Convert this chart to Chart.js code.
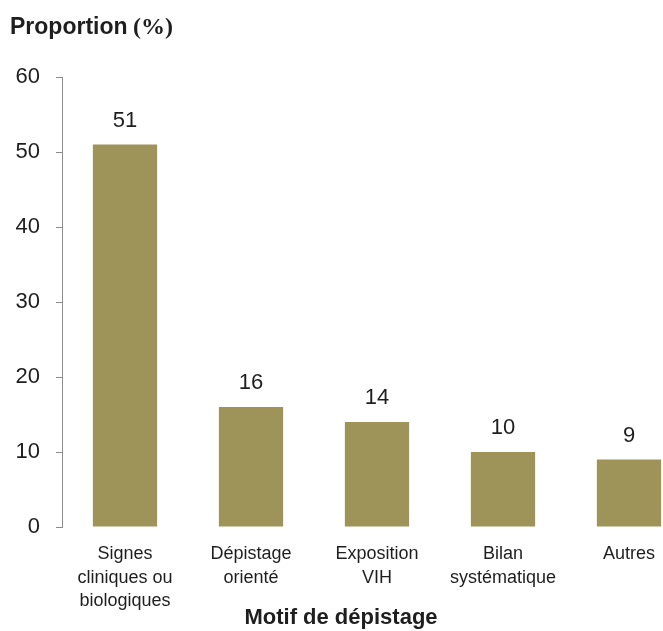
<!DOCTYPE html>
<html>
<head>
<meta charset="utf-8">
<script src="https://cdn.jsdelivr.net/npm/chart.js@4"></script>
<style>
  html, body { margin: 0; padding: 0; background: #fff; overflow: hidden; }
  #wrap { width: 692px; height: 631px; }
</style>
</head>
<body>
<div id="wrap"><canvas id="barChart" width="692" height="631"></canvas></div>
<script>
// 데이터
var categories = [
  ['Signes', 'cliniques ou', 'biologiques'],
  ['Dépistage', 'orienté'],
  ['Exposition', 'VIH'],
  ['Bilan', 'systématique'],
  ['Autres']
];
var proportions = [51, 16, 14, 10, 9];
var yTicks = [0, 10, 20, 30, 40, 50, 60];

var barColor = '#9e9459';
var textColor = '#1e1e1e';
var sans = '"Liberation Sans", Arial, sans-serif';

// 막대 위 값 + 제목 그리기
var labelPlugin = {
  id: 'labelPlugin',
  afterDatasetsDraw: function (chart) {
    var ctx = chart.ctx;
    var meta = chart.getDatasetMeta(0);
    ctx.save();
    ctx.fillStyle = textColor;
    ctx.font = '22px ' + sans;
    ctx.textAlign = 'center';
    ctx.textBaseline = 'middle';
    meta.data.forEach(function (bar, i) {
      ctx.fillText(String(proportions[i]), bar.x, bar.y - 24);
    });

    // y축 제목
    ctx.textAlign = 'left';
    ctx.font = 'bold 23px ' + sans;
    var t1 = 'Proportion ';
    ctx.fillText(t1, 10, 28);
    var w = ctx.measureText(t1).width;
    ctx.font = 'bold 24px "Liberation Serif", "Times New Roman", serif';
    ctx.fillText('(%)', 10 + w - 1, 28);

    // x축 제목
    ctx.textAlign = 'center';
    ctx.font = 'bold 22px ' + sans;
    ctx.fillText('Motif de dépistage', 341, 618);
    ctx.restore();
  }
};

var ctx = document.getElementById('barChart').getContext('2d');
var barChart = new Chart(ctx, {
  type: 'bar',
  data: {
    labels: categories,
    datasets: [{
      data: proportions,
      backgroundColor: barColor,
      borderWidth: 0,
      barPercentage: 0.51,
      categoryPercentage: 1
    }]
  },
  options: {
    responsive: false,
    animation: false,
    layout: { padding: { top: 77, left: 0, right: 0, bottom: 0 } },
    plugins: { legend: { display: false }, tooltip: { enabled: false } },
    scales: {
      x: {
        grid: { display: false },
        border: { display: false },
        ticks: {
          color: textColor,
          font: { family: sans, size: 18, lineHeight: 1.28 },
          padding: 8,
          maxRotation: 0,
          autoSkip: false
        },
        afterFit: function (scale) { scale.height = 104; }
      },
      y: {
        min: 0,
        max: 60,
        afterBuildTicks: function (scale) {
          scale.ticks = yTicks.map(function (v) { return { value: v }; });
        },
        grid: {
          drawOnChartArea: false,
          color: '#8c8c8c',
          tickLength: 6
        },
        border: { color: '#8c8c8c', width: 1 },
        ticks: {
          color: textColor,
          font: { family: sans, size: 22 },
          padding: 16
        },
        afterFit: function (scale) { scale.width = 62; }
      }
    }
  },
  plugins: [labelPlugin]
});
</script>
</body>
</html>
